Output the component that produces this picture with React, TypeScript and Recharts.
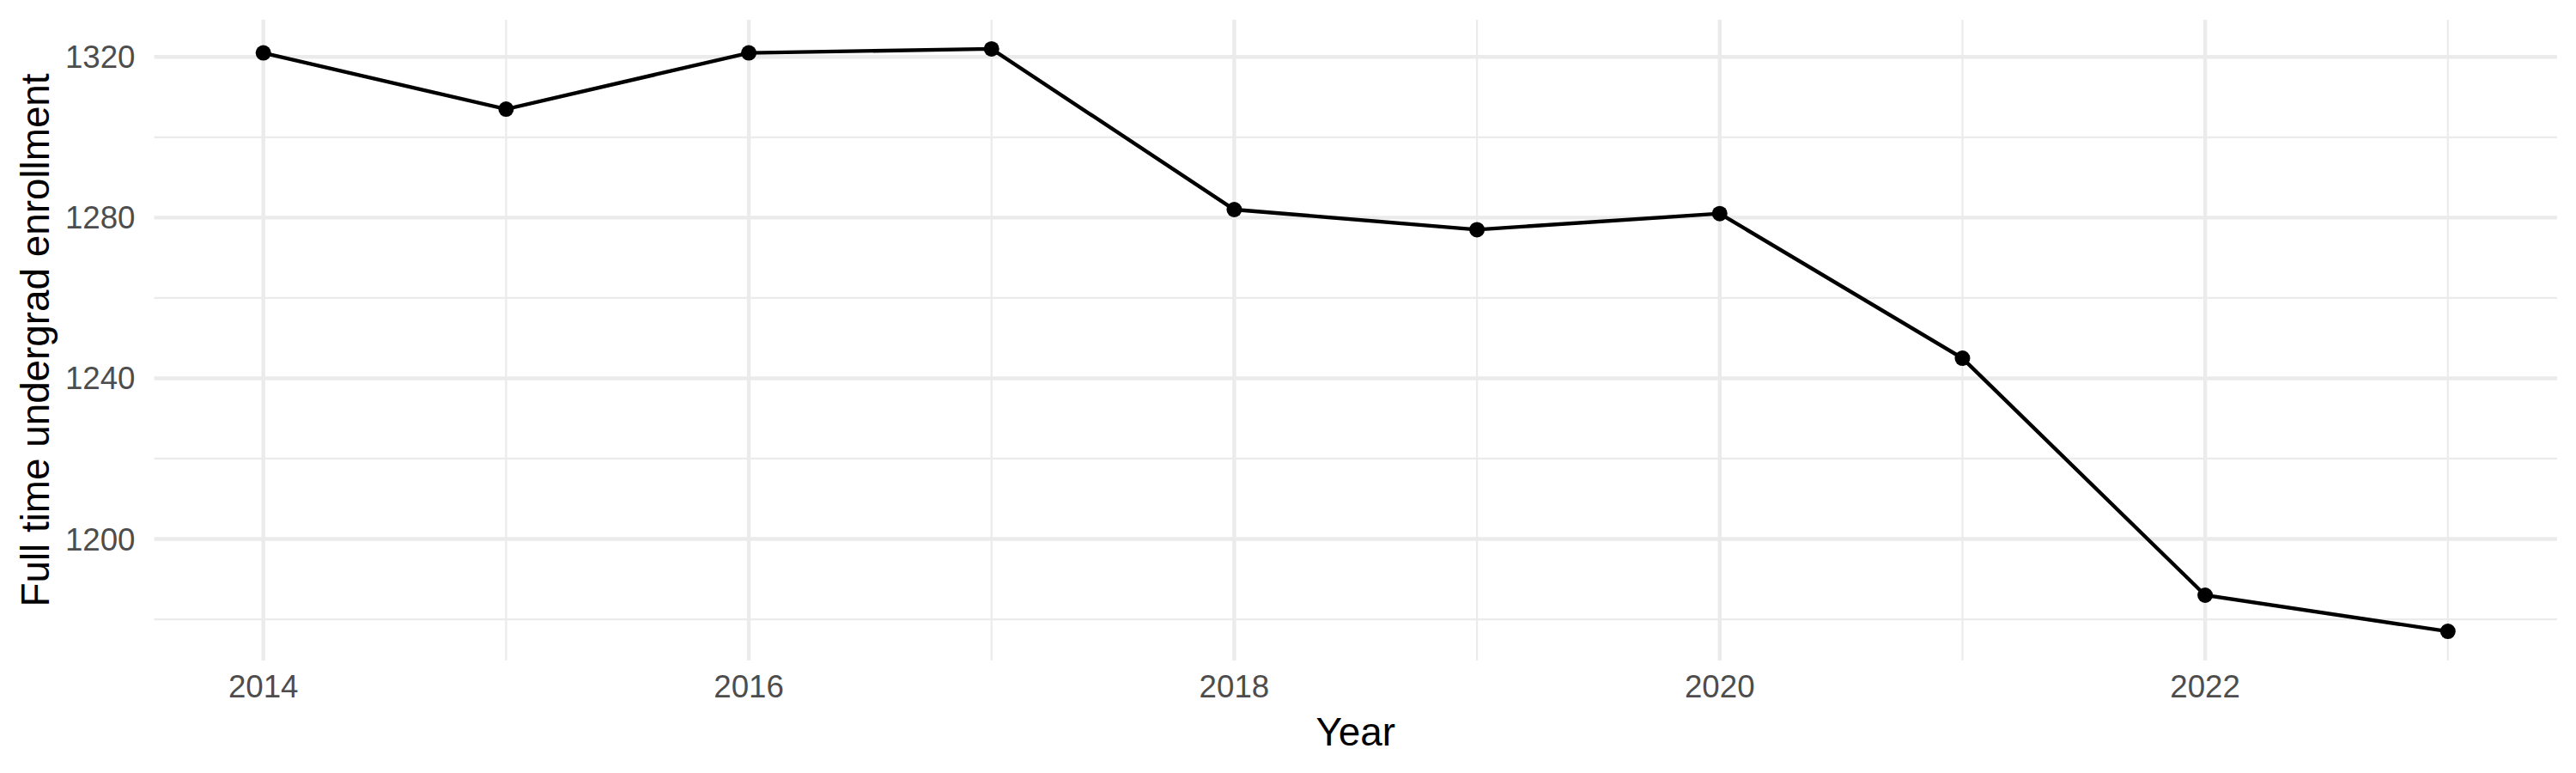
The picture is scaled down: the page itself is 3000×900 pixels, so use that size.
import { LineChart, Line, XAxis, YAxis, CartesianGrid, Label } from "recharts";

const years = [2014, 2015, 2016, 2017, 2018, 2019, 2020, 2021, 2022, 2023];
const enrollment = [1321, 1307, 1321, 1322, 1282, 1277, 1281, 1245, 1186, 1177];

const xTicks = [2014, 2016, 2018, 2020, 2022];
const xMinor = [2015, 2017, 2019, 2021, 2023];
const yTicks = [1200, 1240, 1280, 1320];
const yMinor = [1180, 1220, 1260, 1300];

const data = years.map((year, i) => ({ year, value: enrollment[i] }));

const FONT = '"Liberation Sans", Arial, Helvetica, sans-serif';
const GRID = "#EBEBEB";

export default function App() {
  return (
    <div style={{ width: 3000, height: 900, background: "#fff" }}>
      <style>{"body{margin:0}"}</style>
      <LineChart
        width={3000}
        height={900}
        data={data}
        margin={{ top: 23, right: 22, left: 0, bottom: 0 }}
        style={{ fontFamily: FONT }}
      >
        <CartesianGrid
          stroke={GRID}
          strokeWidth={2.2}
          horizontalValues={yMinor}
          verticalValues={xMinor}
        />
        <CartesianGrid
          stroke={GRID}
          strokeWidth={4.4}
          horizontalValues={yTicks}
          verticalValues={xTicks}
        />
        <XAxis
          dataKey="year"
          type="number"
          domain={[2013.55, 2023.45]}
          ticks={xTicks}
          allowDataOverflow
          height={131}
          tickSize={0}
          tickMargin={17}
          axisLine={false}
          tickLine={false}
          tick={{ fill: "#4D4D4D", fontSize: 36.7, fontFamily: FONT }}
        >
          <Label
            content={(props: any) => {
              const vb = props.viewBox || {};
              return (
                <text
                  x={vb.x + vb.width / 2}
                  y={vb.y + 99}
                  textAnchor="middle"
                  fontSize={45.8}
                  fill="#000"
                  fontFamily={FONT}
                >
                  Year
                </text>
              );
            }}
          />
        </XAxis>
        <YAxis
          type="number"
          domain={[1169.75, 1329.25]}
          ticks={yTicks}
          allowDataOverflow
          width={179.5}
          tickSize={0}
          tickMargin={22}
          axisLine={false}
          tickLine={false}
          tick={{ fill: "#4D4D4D", fontSize: 36.7, fontFamily: FONT }}
        >
          <Label
            content={(props: any) => {
              const vb = props.viewBox || {};
              const cy = vb.y + vb.height / 2;
              return (
                <text
                  x={57}
                  y={cy}
                  transform={`rotate(-90, 57, ${cy})`}
                  textAnchor="middle"
                  fontSize={45.8}
                  fill="#000"
                  fontFamily={FONT}
                >
                  Full time undergrad enrollment
                </text>
              );
            }}
          />
        </YAxis>
        <Line
          dataKey="value"
          stroke="#000"
          strokeWidth={4.4}
          dot={{ r: 9, fill: "#000", stroke: "none" }}
          activeDot={false}
          isAnimationActive={false}
        />
      </LineChart>
    </div>
  );
}
